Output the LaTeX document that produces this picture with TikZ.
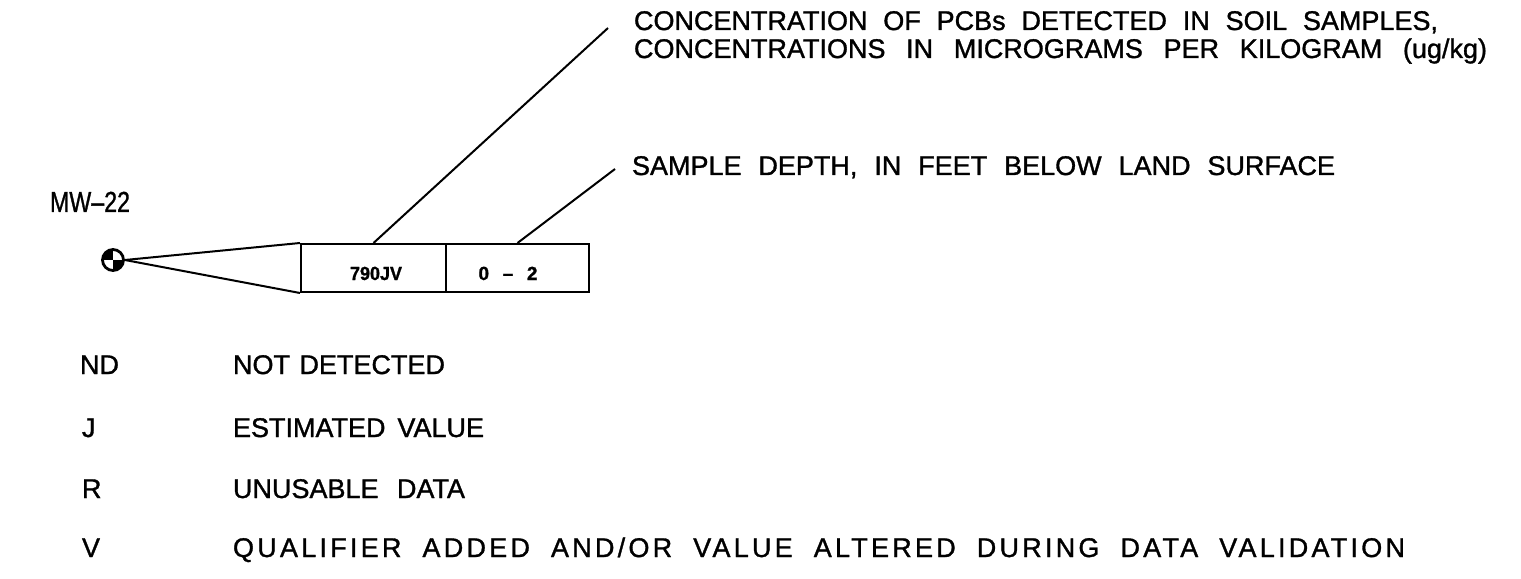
\documentclass[tikz,border=0pt]{standalone}
\usepackage{fontspec}
\setmainfont{Liberation Sans}[FakeBold=1.2]
\newfontfamily\widefont{Liberation Sans}[LetterSpace=12,FakeBold=1.2]
\usepackage{graphicx}
\newcommand\spreadto[2]{\hbox to #1{\spaceskip=0.278em plus 1fil minus 0.1em\xspaceskip=\spaceskip\relax #2}}
\newsavebox\fitbox
\newcommand\fitto[2]{\sbox\fitbox{#2}\edef\fitw{\the\wd\fitbox}\pgfmathsetmacro\fitr{(#1)/\fitw}\scalebox{\fitr}[1]{\usebox\fitbox}}
\begin{document}
\begin{tikzpicture}[x=1bp,y=-1bp,
  lbl/.style={inner sep=0pt,outer sep=0pt,anchor=base west,font=\fontsize{27bp}{30bp}\selectfont},
  cell/.style={draw,line width=2bp,minimum height=48bp,inner sep=0pt},
  lead/.style={line width=2bp},
  val/.style={inner sep=0pt,outer sep=0pt,anchor=base,font=\bfseries\fontsize{19bp}{22bp}\selectfont}]
\useasboundingbox[fill=white] (0,0) rectangle (1521,579);

% sample box
\node[cell,minimum width=145bp] (conc) at (373.5,268) {};
\node[cell,minimum width=143bp] (depth) at (517.5,268) {};
\node[val] (v1) at (376,280) {\fitto{52bp}{790JV}};
\node[val] (v2) at (508,280) {\spreadto{59bp}{0 \textendash{} 2}};

% well symbol
\node[circle,draw,line width=2.8bp,minimum size=21bp,inner sep=0pt] (well) at (113,260) {};
\begin{scope}
  \clip (well.center) circle[radius=10.5];
  \fill (well.center) rectangle ++(-13,-13);
  \fill (well.center) rectangle ++(13,13);
\end{scope}
\node[lbl,font=\fontsize{29bp}{32bp}\selectfont] (mw) at (50,212) {\fitto{80bp}{MW\textendash22}};

% wedge
\draw[lead] (well.east) -- (conc.north west);
\draw[lead] (well.east) -- (conc.south west);

% leaders
\coordinate (t1) at (608,28);
\coordinate (t2) at (615,169);
\draw[lead] (conc.north) -- (t1);
\draw[lead] (depth.north) -- (t2);

\node[lbl] (c1) at (634,30) {\spreadto{804bp}{CONCENTRATION OF PCBs DETECTED IN SOIL SAMPLES,}};
\node[lbl] (c2) at (634,58) {\spreadto{853bp}{CONCENTRATIONS IN MICROGRAMS PER KILOGRAM (ug/kg)}};
\node[lbl] (sd) at (632,175) {\spreadto{703bp}{SAMPLE DEPTH, IN FEET BELOW LAND SURFACE}};

% legend
\node[lbl] (nd) at (80,374) {ND};
\node[lbl] (ndt) at (233,374) {\spreadto{212bp}{NOT DETECTED}};
\node[lbl] (j) at (82,437) {J};
\node[lbl] (jt) at (233,437) {\spreadto{251bp}{ESTIMATED VALUE}};
\node[lbl] (r) at (82,498) {R};
\node[lbl] (rt) at (233,498) {\spreadto{232bp}{UNUSABLE DATA}};
\node[lbl] (v) at (82,557) {V};
\node[lbl,font={\widefont\fontsize{27bp}{30bp}\selectfont}] (vt) at (233,557) {\spreadto{1172bp}{QUALIFIER ADDED AND/OR VALUE ALTERED DURING DATA VALIDATION}};
\end{tikzpicture}
\end{document}
